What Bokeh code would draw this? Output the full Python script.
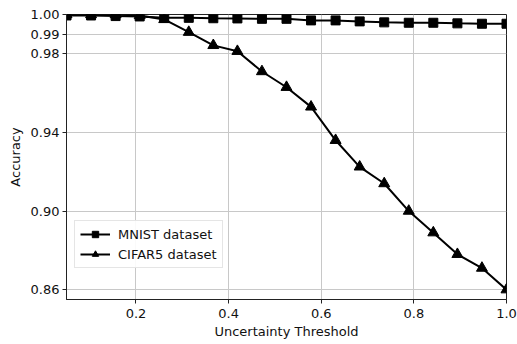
from bokeh.plotting import figure
from bokeh.models import FixedTicker, Legend, LegendItem
from bokeh.embed import file_html
from bokeh.resources import INLINE

thresholds = [0.05, 0.103, 0.156, 0.208, 0.261, 0.314, 0.367, 0.419, 0.472, 0.525,
              0.578, 0.631, 0.683, 0.736, 0.789, 0.842, 0.894, 0.947, 1.0]
mnist = [0.9995, 0.9995, 0.9992, 0.999, 0.9983, 0.9983, 0.9981, 0.998, 0.9978, 0.9978,
         0.997, 0.997, 0.9965, 0.996, 0.9958, 0.9958, 0.9955, 0.9953, 0.9953]
cifar = [1.0, 1.0, 1.0, 0.9995, 0.9975, 0.991, 0.9843, 0.9813, 0.971, 0.963,
         0.953, 0.936, 0.9225, 0.914, 0.900, 0.889, 0.878, 0.871, 0.860]
x_ticks = [0.2, 0.4, 0.6, 0.8, 1.0]
x_tick_labels = ["0.2", "0.4", "0.6", "0.8", "1.0"]
y_ticks = [0.86, 0.90, 0.94, 0.98, 0.99, 1.00]
y_tick_labels = ["0.86", "0.90", "0.94", "0.98", "0.99", "1.00"]

FONT = "DejaVu Sans"

p = figure(width=517, height=344, x_range=(0.05, 1.0), y_range=(0.855, 1.0),
           output_backend="svg", toolbar_location=None,
           min_border_left=66, min_border_right=11, min_border_top=14, min_border_bottom=45)
p.background_fill_color = "white"
p.border_fill_color = "white"
p.outline_line_color = "#222222"
p.outline_line_width = 1

p.xaxis.ticker = FixedTicker(ticks=x_ticks)
p.yaxis.ticker = FixedTicker(ticks=y_ticks)
p.xaxis.major_label_overrides = {t: l for t, l in zip(x_ticks, x_tick_labels)}
p.yaxis.major_label_overrides = {t: l for t, l in zip(y_ticks, y_tick_labels)}
for ax in (p.xaxis, p.yaxis):
    ax.minor_tick_line_color = None
    ax.major_tick_in = 0
    ax.major_tick_out = 4
    ax.major_tick_line_color = "#222222"
    ax.axis_line_color = "#222222"
    ax.major_label_text_font = FONT
    ax.major_label_text_font_size = "13px"
    ax.major_label_text_color = "#111111"
    ax.axis_label_text_font = FONT
    ax.axis_label_text_font_size = "13px"
    ax.axis_label_text_font_style = "normal"
    ax.axis_label_text_color = "#111111"
p.xaxis.axis_label = "Uncertainty Threshold"
p.yaxis.axis_label = "Accuracy"
p.xaxis.major_label_standoff = 5
p.yaxis.major_label_standoff = 3
p.xaxis.axis_label_standoff = 3
p.yaxis.axis_label_standoff = 5

p.xgrid.grid_line_color = "#c8c8c8"
p.ygrid.grid_line_color = "#c8c8c8"
p.xgrid.grid_line_width = 1
p.ygrid.grid_line_width = 1

l1 = p.line(thresholds, mnist, line_color="black", line_width=2)
m1 = p.scatter(thresholds, mnist, marker="square", size=9, fill_color="black", line_color="black")
l2 = p.line(thresholds, cifar, line_color="black", line_width=2)
m2 = p.scatter(thresholds, cifar, marker="triangle", size=11, fill_color="black", line_color="black")

legend = Legend(items=[LegendItem(label="MNIST dataset", renderers=[l1, m1]),
                       LegendItem(label="CIFAR5 dataset", renderers=[l2, m2])],
                location=(8, 31))
legend.label_text_font = FONT
legend.label_text_font_size = "13px"
legend.label_text_color = "#111111"
legend.border_line_color = "#cccccc"
legend.border_line_width = 1
legend.background_fill_alpha = 0.9
legend.glyph_width = 30
legend.glyph_height = 16
legend.spacing = 4
legend.padding = 5
legend.margin = 0
legend.label_standoff = 8
p.add_layout(legend)

open("out.html", "w").write(file_html(p, INLINE))
